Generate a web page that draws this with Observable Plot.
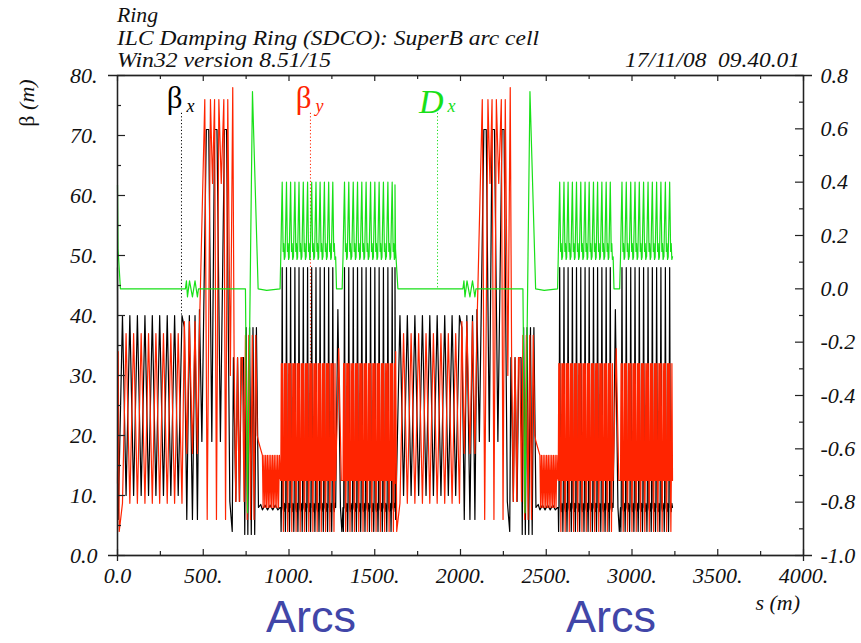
<!DOCTYPE html>
<html>
<head>
<meta charset="utf-8">
<script src="https://cdn.jsdelivr.net/npm/d3@7"></script>
<script src="https://cdn.jsdelivr.net/npm/@observablehq/plot@0.6"></script>
<style>
html,body{margin:0;padding:0;background:#fff;}
#wrap{position:relative;width:861px;height:643px;overflow:hidden;background:#fff;}
#chart{position:absolute;left:0;top:0;}
svg.overlay{position:absolute;left:0;top:0;pointer-events:none;}
</style>
</head>
<body>
<div id="wrap">
  <div id="chart"></div>
  <svg class="overlay" width="861" height="643" font-family="'Liberation Serif','Times New Roman',serif" font-style="italic" font-size="20" fill="#111">
    <text x="117" y="22" textLength="41" lengthAdjust="spacingAndGlyphs">Ring</text>
    <text x="117" y="45" textLength="422" lengthAdjust="spacingAndGlyphs">ILC Damping Ring (SDCO): SuperB arc cell</text>
    <text x="117" y="67" textLength="214" lengthAdjust="spacingAndGlyphs">Win32 version 8.51/15</text>
    <text x="800" y="67" text-anchor="end" style="white-space:pre" textLength="175" lengthAdjust="spacingAndGlyphs">17/11/08  09.40.01</text>
    <text transform="translate(34,103) rotate(-90)" text-anchor="middle" font-size="22"><tspan font-style="normal">β</tspan> (m)</text>
    <text x="800" y="610" text-anchor="end" font-size="22">s (m)</text>
    <text x="311" y="632" text-anchor="middle" font-family="'Liberation Sans',Arial,sans-serif" font-style="normal" font-size="45" fill="#4146a8">Arcs</text>
    <text x="611" y="632" text-anchor="middle" font-family="'Liberation Sans',Arial,sans-serif" font-style="normal" font-size="45" fill="#4146a8">Arcs</text>
  </svg>
</div>
<script>
// ---------------- axis ticks ----------------
const xTicks = [0, 500, 1000, 1500, 2000, 2500, 3000, 3500, 4000];
const xMinorTicks = [250, 750, 1250, 1750, 2250, 2750, 3250, 3750];
const betaTicks = [0, 10, 20, 30, 40, 50, 60, 70, 80];
const betaMinorTicks = [5, 15, 25, 35, 45, 55, 65, 75];
const dxTicks = [-1.0, -0.8, -0.6, -0.4, -0.2, 0.0, 0.2, 0.4, 0.6, 0.8];
const dxTickLabels = ["-1.0", "-0.8", "-0.6", "-0.4", "-0.2", "0.0", "0.2", "0.4", "0.6", "0.8"];
const dxMinorTicks = [-0.9, -0.7, -0.5, -0.3, -0.1, 0.1, 0.3, 0.5, 0.7];
const betaRange = [0, 80];
const dxRange = [-1.0, 0.8];
const sRange = [0, 4000];

// ---------------- lattice data (s in m) ----------------
// the ring is made of two identical superperiods
const superperiodStarts = [0, 1618];

// straight / wiggler / matching sections, s 0 - 948 within a superperiod: [s, value]
const betaXStraight = [
  [0,48],[4,6],[29,40],[50,10],[72,40],[94,10],[116,40],[138,10],[160,40],[181,10],[203,40],[224,10],
  [246,40],[268,10],[290,40],[311,10],[333,40],[354,10],[376,40],
  [390,38],[404,6],[419,40],[437,6],[452,40],[466,6],[478,41],
  [492,19],[518,71],[532,71],[550,19],[566,71],[580,71],[600,19],[624,71],[636,71],[655,9],[669,4],
  [676,33],[690,9],[700,33],[712,9],[722,33],[735,33],[742,3.5],
  [750,38],[760,3.5],[770,38],[780,3.5],[790,38],[800,3.5],[810,38],[822,8],
  [835,8.5],[845,7.6],[860,8.4],[875,7.6],[890,8.4],[905,7.6],[920,8.4],[935,7.6],[948,8]
];
const betaYStraight = [
  [0,12],[4,34],[10,4],[29,8.7],[50,37],[72,8.7],[94,37],[116,8.7],[138,37],[160,8.7],[181,37],[203,8.7],
  [224,37],[246,8.7],[268,37],[290,8.7],[311,37],[333,8.7],[354,37],[376,8.7],
  [390,39],[404,17],[419,39],[437,17],[452,39],[466,17],[478,38],
  [509,76],[523,6],[542,76],[554,62],[566,76],[577,6],[591,76],[605,62],[620,76],[630,6],[643,76],[658,30],[672,78],
  [680,33],[690,9],[700,33],[710,9],[720,33],[728,33],[738,9],
  [746,36.7],[756,6],[766,36.7],[776,6],[786,36.7],[796,6],[806,36.7],[815,20],[822,19],[845,16.7],
  [849,8],[854,16.7],[859,8],[864,16.7],[869,8],[874,16.7],[879,8],[884,16.7],[889,8],[894,16.7],
  [899,8],[904,16.7],[909,8],[914,16.7],[919,8],[924,16.7],[929,8],[934,16.7],[939,8],[944,16.7],[948,13]
];
const dxStraight = [
  [0,0.39],[3,0.15],[17,0],[396,0],[402,0.03],[408,-0.03],[420,0.03],[437,-0.03],[452,0.03],[466,-0.03],
  [472,0],[746,0],[758,-0.84],[787,0.74],[820,0],[870,-0.006],[948,0]
];

// arc: two sub-arcs of SuperB cells, separated by one special cell
const arcACellStarts = [952, 977, 1001, 1026, 1050, 1075, 1100, 1124, 1149, 1173, 1198, 1223, 1247];
const arcACellLength = 24.6;
const arcBCellStarts = [1315, 1340, 1366, 1391, 1416, 1441, 1467, 1492, 1517, 1542, 1568, 1593];
const arcBCellLength = 25.25;
// one arc cell: [fraction of cell, value]
const betaXCell = [[0,8],[0.08,4],[0.16,8],[0.34,48],[0.52,8],[0.7,7.3],[0.85,8.7],[1,8]];
const betaYCell = [[0,12.5],[0.13,32],[0.26,12.5],[0.4,32],[0.53,12.5],[0.62,4],[0.72,12.5],[0.86,32],[1,12.5]];
const dxCell = [[0,0.12],[0.34,0.40],[0.56,0.14],[0.7,0.17],[0.84,0.11],[1,0.12]];
// cell between the two sub-arcs
const betaXGap = [[1272,8],[1285,41],[1300,8],[1308,4],[1315,8]];
const betaYGap = [[1272,12.5],[1290,34.5],[1305,12.5]];
const dxGap = [[1272,0.12],[1277,0],[1310,0]];

// curve labels (marker line runs from under the label down to the curve)
const curveNames = ["β", "β", "D"];
const curveSubs = ["x", "y", "x"];
const curveLabelS = [373, 1125, 1866];
const curveLabelBeta = [73.7, 73.7, 73.7];
const curveTargets = [40, 32, 0.0];
const curveOnDxAxis = [false, false, true];

// ---------------- styles ----------------
const colBX = "#000000", colBY = "#ff2400", colDX = "#18e018";
const curveColors = [colBX, colBY, colDX];
const serif = "'Liberation Serif','Times New Roman',serif";

// ---------------- build tables ----------------
const toBeta = d => (d - dxRange[0]) / (dxRange[1] - dxRange[0]) * (betaRange[1] - betaRange[0]) + betaRange[0];

function buildSeries(straight, cell, gap) {
  const local = straight.slice();
  for (const s0 of arcACellStarts) for (const [f, v] of cell) local.push([s0 + f * arcACellLength, v]);
  for (const p of gap) local.push(p);
  for (const s0 of arcBCellStarts) for (const [f, v] of cell) local.push([s0 + f * arcBCellLength, v]);
  const rows = [];
  for (const off of superperiodStarts) for (const [s, v] of local) rows.push({s: s + off, v});
  return rows;
}
const betaX = buildSeries(betaXStraight, betaXCell, betaXGap);
const betaY = buildSeries(betaYStraight, betaYCell, betaYGap);
const dispX = buildSeries(dxStraight, dxCell, dxGap);

const curveLabels = curveNames.map((name, i) => ({
  name, sub: curveSubs[i], s: curveLabelS[i], top: curveLabelBeta[i],
  target: curveOnDxAxis[i] ? toBeta(curveTargets[i]) : curveTargets[i],
  color: curveColors[i]
}));
const isGreek = d => d.name === "β";

const W = 861, H = 643, mL = 117, mR = 58, mT = 75, mB = 88;
const plotW = W - mL - mR, plotH = H - mT - mB;
const dxTickBeta = dxTicks.map(toBeta);
const fmtNum = d => d === 0 ? "0.0" : d + ".";

const axisText = {fontSize: 22, fontFamily: serif, fontStyle: "italic", label: null, tickSize: 0, fill: "#111"};
const tickStyle = {stroke: "#222", strokeWidth: 1.2};
const labelText = {x: "s", fill: "color", frameAnchor: "top", lineAnchor: "bottom", fontFamily: serif};

const chart = Plot.plot({
  width: W, height: H,
  marginLeft: mL, marginRight: mR, marginTop: mT, marginBottom: mB,
  x: {domain: sRange},
  y: {domain: betaRange},
  color: {type: "identity"},
  style: {background: "white", fontFamily: serif, fontSize: "22px", color: "#111"},
  marks: [
    Plot.ruleX(curveLabels, {x: "s", y1: "top", y2: "target", stroke: "color", strokeWidth: 1, strokeDasharray: "1.2,2.2"}),
    Plot.line(betaX, {x: "s", y: "v", stroke: colBX, strokeWidth: 1.2}),
    Plot.line(betaY, {x: "s", y: "v", stroke: colBY, strokeWidth: 1.2}),
    Plot.line(dispX, {x: "s", y: d => toBeta(d.v), stroke: colDX, strokeWidth: 1.2}),
    Plot.frame({stroke: "#222", strokeWidth: 1.3}),
    Plot.ruleY(betaRange, {insetLeft: -9, insetRight: -9, stroke: "#222", strokeWidth: 1.3}),
    Plot.ruleX(sRange, {insetBottom: -6, stroke: "#222", strokeWidth: 1.3}),
    Plot.tickY(betaTicks, {y: d => d, insetRight: plotW - 8, ...tickStyle}),
    Plot.tickY(betaMinorTicks, {y: d => d, insetRight: plotW - 4, ...tickStyle}),
    Plot.tickY(dxTickBeta, {y: d => d, insetLeft: plotW - 8, ...tickStyle}),
    Plot.tickY(dxMinorTicks, {y: d => toBeta(d), insetLeft: plotW - 4, ...tickStyle}),
    Plot.tickX(xTicks, {x: d => d, insetTop: plotH - 6, ...tickStyle}),
    Plot.tickX(xMinorTicks, {x: d => d, insetTop: plotH - 4, ...tickStyle}),
    Plot.tickX(xTicks, {x: d => d, insetBottom: plotH - 6, ...tickStyle}),
    Plot.tickX(xMinorTicks, {x: d => d, insetBottom: plotH - 4, ...tickStyle}),
    Plot.axisY(betaTicks, {anchor: "left", tickPadding: 20, tickFormat: fmtNum, ...axisText}),
    Plot.axisY(dxTickBeta, {anchor: "right", tickPadding: 17, tickFormat: b => dxTickLabels[dxTickBeta.indexOf(b)], ...axisText}),
    Plot.axisX(xTicks, {anchor: "bottom", tickPadding: 12, tickFormat: fmtNum, ...axisText}),
    Plot.text(curveLabels, {...labelText, filter: isGreek, text: "name", dy: 32, textAnchor: "end", dx: 1, fontSize: 31, fontStyle: "normal"}),
    Plot.text(curveLabels, {...labelText, filter: d => !isGreek(d), text: "name", dy: 37, textAnchor: "end", dx: 6, fontSize: 34, fontStyle: "italic"}),
    Plot.text(curveLabels, {...labelText, filter: isGreek, text: "sub", dy: 36, textAnchor: "start", dx: 5, fontSize: 18, fontStyle: "italic"}),
    Plot.text(curveLabels, {...labelText, filter: d => !isGreek(d), text: "sub", dy: 36, textAnchor: "start", dx: 10, fontSize: 18, fontStyle: "italic"})
  ]
});
document.getElementById("chart").appendChild(chart);
</script>
</body>
</html>
